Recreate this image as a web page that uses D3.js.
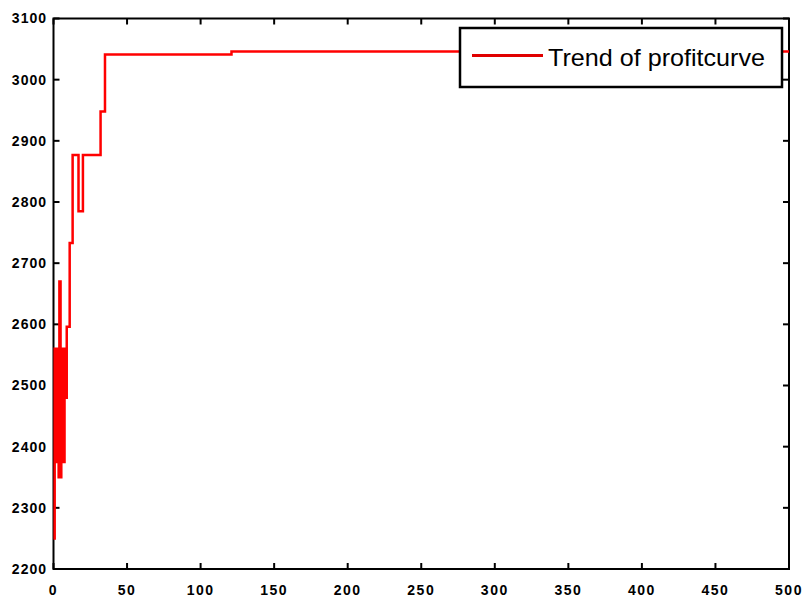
<!DOCTYPE html>
<html>
<head>
<meta charset="utf-8">
<script src="https://cdn.jsdelivr.net/npm/d3@7"></script>
<style>
  html, body { margin: 0; padding: 0; background: #fff; }
  svg { display: block; }
</style>
</head>
<body>
<svg id="chart" width="802" height="598"></svg>
<script>
// iteration at which the profit changes, and the profit from there on
const iterations = [0, 0.8, 1.5, 2, 2.5, 3, 3.5, 4, 4.8, 5.3, 6, 6.5, 7, 7.5, 8, 9, 11, 13, 17, 20, 32, 35, 121, 500];
const profit = [2250, 2560, 2375, 2560, 2375, 2560, 2350, 2670, 2350, 2560, 2375, 2560, 2375, 2560, 2480, 2596, 2733, 2877, 2785, 2877, 2948, 3041, 3046, 3046];

const xTicks = [0, 50, 100, 150, 200, 250, 300, 350, 400, 450, 500];
const yTicks = [2200, 2300, 2400, 2500, 2600, 2700, 2800, 2900, 3000, 3100];
const legendLabel = "Trend of profitcurve";

const width = 802;
const height = 598;
const margin = { top: 18.5, right: 13, bottom: 29, left: 53.5 };

const svg = d3.select("#chart");
svg.selectAll("*").remove();

svg.append("rect").attr("width", width).attr("height", height).attr("fill", "#fff");

const x = d3.scaleLinear().domain([0, 500]).range([margin.left, width - margin.right]);
const y = d3.scaleLinear().domain([2200, 3100]).range([height - margin.bottom, margin.top]);

const [x0, x1] = x.range();
const [y0, y1] = y.range(); // y0 bottom, y1 top

// Box with inward ticks on all four sides (matlab style)
const tickLen = 6;
const axes = svg.append("g").attr("stroke", "#000").attr("stroke-width", 2).attr("fill", "none");

axes.append("rect")
  .attr("x", x0).attr("y", y1)
  .attr("width", x1 - x0).attr("height", y0 - y1);

xTicks.forEach((t) => {
  axes.append("line").attr("x1", x(t)).attr("x2", x(t)).attr("y1", y0).attr("y2", y0 - tickLen);
  axes.append("line").attr("x1", x(t)).attr("x2", x(t)).attr("y1", y1).attr("y2", y1 + tickLen);
});
yTicks.forEach((t) => {
  axes.append("line").attr("x1", x0).attr("x2", x0 + tickLen).attr("y1", y(t)).attr("y2", y(t));
  axes.append("line").attr("x1", x1).attr("x2", x1 - tickLen).attr("y1", y(t)).attr("y2", y(t));
});

// Tick labels
svg.append("g")
  .selectAll("text")
  .data(xTicks)
  .enter()
  .append("text")
  .attr("x", (d) => x(d))
  .attr("y", 595)
  .attr("text-anchor", "middle")
  .attr("font-family", "Liberation Sans, Arial, sans-serif")
  .attr("font-weight", "bold")
  .attr("font-size", "14px")
  .attr("letter-spacing", "1.5px")
  .attr("fill", "#000")
  .text((d) => d);

svg.append("g")
  .selectAll("text")
  .data(yTicks)
  .enter()
  .append("text")
  .attr("x", 47)
  .attr("y", (d) => y(d))
  .attr("dy", "0.35em")
  .attr("text-anchor", "end")
  .attr("font-family", "Liberation Sans, Arial, sans-serif")
  .attr("font-weight", "bold")
  .attr("font-size", "14px")
  .attr("letter-spacing", "1px")
  .attr("fill", "#000")
  .text((d) => d);

// Profit curve as a stair line
const points = iterations.map((it, i) => [it, profit[i]]);
const line = d3.line()
  .x((d) => x(d[0]))
  .y((d) => y(d[1]))
  .curve(d3.curveStepAfter);

svg.append("path")
  .datum(points)
  .attr("d", line)
  .attr("fill", "none")
  .attr("stroke", "#ff0000")
  .attr("stroke-width", 2.5);

// Legend
const legend = svg.append("g").attr("transform", "translate(460,28)");
legend.append("rect")
  .attr("width", 322).attr("height", 59)
  .attr("fill", "#fff")
  .attr("stroke", "#000")
  .attr("stroke-width", 2.5);
legend.append("line")
  .attr("x1", 12).attr("x2", 83)
  .attr("y1", 27.5).attr("y2", 27.5)
  .attr("stroke", "#e00000")
  .attr("stroke-width", 3);
legend.append("text")
  .attr("x", 88)
  .attr("y", 38)
  .attr("font-family", "Liberation Sans, Arial, sans-serif")
  .attr("font-size", "24px")
  .attr("textLength", 217)
  .attr("lengthAdjust", "spacingAndGlyphs")
  .attr("fill", "#000")
  .text(legendLabel);
</script>
</body>
</html>
